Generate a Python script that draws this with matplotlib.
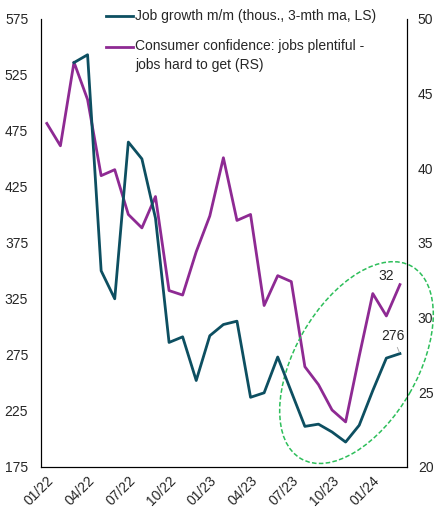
import numpy as np
import matplotlib
matplotlib.use('Agg')
import matplotlib.pyplot as plt
from matplotlib.patches import Ellipse
from matplotlib.transforms import ScaledTranslation

plt.rcParams['font.family'] = ['Liberation Sans', 'DejaVu Sans']

# monthly, 01/2022 .. 03/2024
months = ['01/22', '02/22', '03/22', '04/22', '05/22', '06/22', '07/22', '08/22', '09/22',
          '10/22', '11/22', '12/22', '01/23', '02/23', '03/23', '04/23', '05/23', '06/23',
          '07/23', '08/23', '09/23', '10/23', '11/23', '12/23', '01/24', '02/24', '03/24']
job_growth = [np.nan, np.nan, 536, 543, 350, 325, 465, 450, 397, 286, 291, 252, 292, 302,
              305, 237, 241, 273, 242, 211, 213, 206, 197, 212, 243, 272, 276]
confidence = [43.0, 41.5, 47.1, 44.6, 39.5, 39.9, 36.9, 36.0, 38.1, 31.8, 31.5, 34.4, 36.8,
              40.7, 36.5, 36.9, 30.8, 32.8, 32.4, 26.7, 25.5, 23.8, 23.0, 27.4, 31.6, 30.1, 32.2]
tick_idx = list(range(0, 27, 3))

teal = '#0D4F61'
purple = '#8E2A93'
txt = '#262626'

fig = plt.figure(figsize=(4.45, 5.12), dpi=100)
ax = fig.add_axes([0.0915, 0.0885, 0.8225, 0.8745])
ax2 = ax.twinx()

x = np.arange(len(months))
ax.plot(x, job_growth, color=teal, lw=2.0, zorder=3)
ax2.plot(x, confidence, color=purple, lw=2.0)
ax.set_zorder(ax2.get_zorder() + 1)
ax.patch.set_visible(False)

ax.set_xlim(-0.45, 26.5)
ax.set_ylim(175, 575)
ax.set_yticks(np.arange(175, 576, 50))
ax2.set_ylim(20, 50)
ax2.set_yticks(np.arange(20, 51, 5))
ax.set_xticks(tick_idx)
ax.set_xticklabels([months[i] for i in tick_idx], rotation=45, ha='right', rotation_mode='anchor')

for a in (ax, ax2):
    a.spines['top'].set_visible(False)
    for s in ('left', 'right', 'bottom'):
        a.spines[s].set_color('black')
        a.spines[s].set_linewidth(0.8)
    a.tick_params(length=0, labelsize=10, labelcolor=txt)
ax.tick_params(axis='y', pad=9)
ax2.tick_params(axis='y', pad=8)
ax.tick_params(axis='x', pad=5)

# end labels
ax2.annotate('32', xy=(26, confidence[-1]), xytext=(-9.6, 6.5), textcoords='offset points',
             ha='center', va='center', fontsize=10, color=txt)
ax.annotate('276', xy=(26, job_growth[-1]), xytext=(-5.3, 12.5), textcoords='offset points',
            ha='center', va='center', fontsize=10, color=txt,
            arrowprops=dict(arrowstyle='-', color='#a0a0a0', lw=0.6, shrinkA=1, shrinkB=1))

# highlight ellipse
tr = fig.dpi_scale_trans + ScaledTranslation(22.8, 268, ax.transData)
ax.add_patch(Ellipse((0, 0), 2.22, 1.226, angle=60, transform=tr, fill=False,
                     edgecolor='#2DBE5A', lw=1.1, ls=(0, (3, 1.5)), clip_on=False))

# legend
fig.add_artist(plt.Line2D([0.2382, 0.2989], [0.9697, 0.9697], color=teal, lw=2.0))
fig.text(0.3034, 0.9697, 'Job growth m/m (thous., 3-mth ma, LS)', fontsize=10,
         color=txt, va='center')
fig.add_artist(plt.Line2D([0.2382, 0.2989], [0.9082, 0.9082], color=purple, lw=2.0))
fig.text(0.3034, 0.9235, 'Consumer confidence: jobs plentiful -\njobs hard to get (RS)',
         fontsize=10, color=txt, va='top', linespacing=1.45)

fig.savefig('out.png', dpi=100)
